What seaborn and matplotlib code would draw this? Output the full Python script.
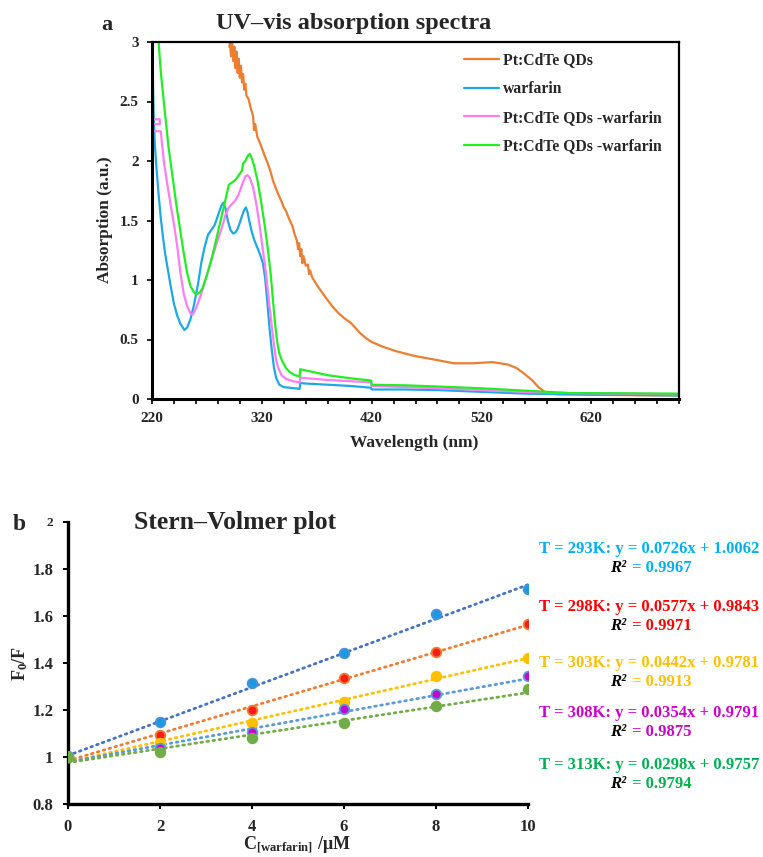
import numpy as np
import pandas as pd
import matplotlib
matplotlib.use("Agg")
import matplotlib.pyplot as plt
import seaborn as sns

# ---------------- data: UV-vis spectra ----------------
qd_x = [290.5, 291, 292, 293, 294, 295, 296, 297, 298, 299, 300, 301, 302, 303, 304, 305, 306, 308, 310,
        312, 313, 314, 316, 318, 320, 322, 325, 328, 330, 332, 335, 338, 340, 342, 345, 348, 350, 352,
        353, 354, 355, 356, 357, 358, 360, 362, 363, 364, 366, 370, 373, 380, 385, 390, 395, 401, 405,
        410, 415, 420, 425, 430, 443, 460, 478, 495, 512, 530, 544, 552, 558, 566, 572, 579, 590, 620, 660, 700]
qd_y = [2.96, 3.00, 2.88, 2.99, 2.84, 2.96, 2.78, 2.92, 2.74, 2.86, 2.70, 2.80, 2.66, 2.73, 2.60, 2.65, 2.55, 2.52, 2.44,
        2.38, 2.26, 2.31, 2.20, 2.16, 2.11, 2.06, 1.99, 1.91, 1.84, 1.79, 1.72, 1.66, 1.61, 1.58, 1.51, 1.45, 1.38, 1.33,
        1.26, 1.31, 1.20, 1.26, 1.14, 1.20, 1.12, 1.13, 1.05, 1.08, 1.02, 0.96, 0.92, 0.83, 0.77, 0.72, 0.68, 0.64, 0.60,
        0.55, 0.51, 0.48, 0.46, 0.44, 0.40, 0.36, 0.33, 0.30, 0.30, 0.31, 0.29, 0.26, 0.22, 0.16, 0.10, 0.05, 0.04, 0.035, 0.032, 0.03]

war_x = [220.3, 220.8, 221.5, 222.5, 224, 226, 228, 230, 232, 234, 237, 240, 243, 246, 249.5, 252, 255, 258, 262,
         265, 268, 271, 274, 277, 280, 283, 285, 287, 289, 291.5, 294, 296, 298, 300, 302, 304, 305.5, 307, 309,
         311, 313, 316, 319, 321, 323, 325, 327, 329, 331, 333, 336, 340, 345, 350, 354.5, 355, 360, 380, 400,
         419.5, 420, 450, 480, 520, 560, 600, 650, 700]
war_y = [3.0, 2.7, 2.4, 2.15, 1.95, 1.72, 1.52, 1.36, 1.22, 1.11, 0.95, 0.80, 0.70, 0.63, 0.58, 0.60, 0.67, 0.78, 0.97,
         1.15, 1.28, 1.38, 1.42, 1.46, 1.54, 1.62, 1.65, 1.60, 1.50, 1.42, 1.39, 1.40, 1.43, 1.48, 1.54, 1.59, 1.61, 1.57, 1.48,
         1.40, 1.34, 1.27, 1.20, 1.14, 1.02, 0.82, 0.60, 0.42, 0.27, 0.18, 0.12, 0.10, 0.095, 0.09, 0.085, 0.135, 0.13, 0.12, 0.11,
         0.095, 0.08, 0.08, 0.075, 0.06, 0.045, 0.04, 0.035, 0.03]

mix1_x = [220.3, 220.6, 227, 227.3, 220.6, 220.6, 228, 229, 231, 234, 237, 240, 243, 246, 249, 252, 255, 257, 260,
          264, 268, 272, 276, 280, 284, 287, 290, 293, 296, 299, 302, 305, 307, 309, 312, 315, 318, 321, 323, 325,
          327, 329, 331, 333, 335, 338, 342, 348, 354.5, 355, 360, 380, 400, 419.5, 420, 450, 480, 520, 560, 600, 650, 700]
mix1_y = [2.95, 2.35, 2.35, 2.31, 2.31, 2.25, 2.25, 2.15, 1.98, 1.80, 1.63, 1.47, 1.28, 1.05, 0.88, 0.78, 0.72, 0.71, 0.76,
          0.86, 0.98, 1.10, 1.22, 1.34, 1.45, 1.55, 1.61, 1.64, 1.67, 1.72, 1.80, 1.87, 1.88, 1.86, 1.78, 1.64, 1.46, 1.25, 1.12, 0.95,
          0.78, 0.62, 0.46, 0.33, 0.26, 0.20, 0.17, 0.15, 0.14, 0.18, 0.175, 0.16, 0.15, 0.14, 0.11, 0.10, 0.09, 0.075, 0.06, 0.05, 0.045, 0.04]

mix2_x = [226, 228, 230.5, 233, 235, 237.5, 240, 243, 246, 249, 252, 255, 258, 260, 263, 266, 270, 274, 278, 282, 285,
          288, 290, 293, 296, 299, 302, 303, 305, 307, 309, 311, 313, 316, 319, 322, 325, 328, 330, 332, 334, 336, 338.5,
          342, 345, 350, 354.5, 355, 360, 380, 400, 419.5, 420, 450, 480, 520, 560, 600, 650, 700]
mix2_y = [3.0, 2.75, 2.52, 2.30, 2.12, 1.95, 1.78, 1.58, 1.40, 1.22, 1.06, 0.95, 0.90, 0.88, 0.89, 0.93, 1.04, 1.17, 1.32, 1.48, 1.60,
          1.72, 1.80, 1.82, 1.84, 1.88, 1.92, 1.98, 2.00, 2.04, 2.06, 2.02, 1.96, 1.84, 1.68, 1.50, 1.30, 1.06, 0.85, 0.64, 0.48, 0.38, 0.32,
          0.26, 0.23, 0.20, 0.19, 0.25, 0.24, 0.20, 0.175, 0.155, 0.12, 0.115, 0.105, 0.09, 0.07, 0.05, 0.048, 0.045]

spec_labels = ["Pt:CdTe QDs", "warfarin", "Pt:CdTe QDs -warfarin", "Pt:CdTe QDs -warfarin"]
spec_colors = ["#ED7D31", "#1FA8E6", "#FF7DF5", "#22EE22"]

# ---------------- data: Stern-Volmer ----------------
conc = [0, 2, 4, 6, 8, 10]
temps = ["293K", "298K", "303K", "308K", "313K"]
f0f_293 = [1.003, 1.148, 1.315, 1.440, 1.607, 1.713]
f0f_298 = [1.000, 1.094, 1.200, 1.337, 1.445, 1.567]
f0f_303 = [1.000, 1.058, 1.143, 1.233, 1.344, 1.422]
f0f_308 = [1.000, 1.037, 1.105, 1.202, 1.266, 1.344]
f0f_313 = [1.000, 1.020, 1.081, 1.146, 1.217, 1.290]
slopes = [0.0726, 0.0577, 0.0442, 0.0354, 0.0298]
intercepts = [1.0062, 0.9843, 0.9781, 0.9791, 0.9757]
r2_vals = ["0.9967", "0.9971", "0.9913", "0.9875", "0.9794"]
eq_texts = ["T = 293K: y = 0.0726x + 1.0062", "T = 298K: y = 0.0577x + 0.9843",
            "T = 303K: y = 0.0442x + 0.9781", "T = 308K: y = 0.0354x + 0.9791",
            "T = 313K: y = 0.0298x + 0.9757"]
marker_face = ["#1A9BE0", "#FF1A1A", "#FFC000", "#CC00CC", "#70AD47"]
marker_edge = ["#4A90D9", "#ED7D31", "#FFC000", "#5B9BD5", "#70AD47"]
line_colors = ["#4472C4", "#ED7D31", "#FFC000", "#5B9BD5", "#70AD47"]
text_colors = ["#00B0F0", "#FF0000", "#FFC000", "#CC00CC", "#00B050"]

# ---------------- style ----------------
sns.set_theme(style="white")
plt.rcParams["font.family"] = ["Liberation Serif", "DejaVu Serif"]
plt.rcParams["font.weight"] = "bold"
plt.rcParams["axes.labelweight"] = "bold"
plt.rcParams["mathtext.fontset"] = "custom"
plt.rcParams["mathtext.rm"] = "Liberation Serif:bold"
plt.rcParams["mathtext.it"] = "Liberation Serif:italic:bold"
plt.rcParams["mathtext.bf"] = "Liberation Serif:bold"

W, H = 763, 857
fig = plt.figure(figsize=(W / 100, H / 100), dpi=100)

def fx(px):
    return px / W

def fy(py):
    return 1 - py / H

# ---------------- top panel ----------------
L1, R1, T1, B1 = 152, 679, 42, 399
ax1 = fig.add_axes([fx(L1), fy(B1), fx(R1) - fx(L1), fy(T1) - fy(B1)])
spectra = [(qd_x, qd_y), (war_x, war_y), (mix1_x, mix1_y), (mix2_x, mix2_y)]
for (xs, ys), lab, col in zip(spectra, spec_labels, spec_colors):
    df = pd.DataFrame({"wl": xs, "abs": ys})
    sns.lineplot(data=df, x="wl", y="abs", ax=ax1, sort=False, estimator=None,
                 color=col, lw=1.6, label=lab)
ax1.set_xlim(220, 700)
ax1.set_ylim(0, 3)
ax1.set_xticks([220, 320, 420, 520, 620])
ax1.set_xticks(np.arange(220, 701, 20), minor=True)
ax1.set_yticks([0, 0.5, 1, 1.5, 2, 2.5, 3])
ax1.set_yticklabels(["0", "0.5", "1", "1.5", "2", "2.5", "3"])
ax1.tick_params(axis="both", which="both", direction="out", length=3.5, width=1.2,
                labelsize=11, color="black", bottom=True, left=True, pad=6)
for lab in ax1.get_xticklabels() + ax1.get_yticklabels():
    lab.set_fontweight("bold")
for s in ax1.spines.values():
    s.set_color("black")
    s.set_linewidth(1.6)
ax1.spines["left"].set_linewidth(2.2)
ax1.spines["bottom"].set_linewidth(2.2)
ax1.set_xlabel("Wavelength (nm)", fontsize=12.5, fontweight="bold")
ax1.set_ylabel("Absorption (a.u.)", fontsize=12.5, fontweight="bold")
ax1.xaxis.set_label_coords((414 - L1) / (R1 - L1), (B1 - 443) / (B1 - T1))
ax1.xaxis.label.set_va("center")
ax1.yaxis.set_label_coords((105 - L1) / (R1 - L1), (B1 - 220) / (B1 - T1))
ax1.yaxis.label.set_va("center")
leg = ax1.legend(loc="upper left", bbox_to_anchor=((450 - L1) / (R1 - L1), 1.01), frameon=False,
                 fontsize=11.3, handlelength=2.2, labelspacing=0.8, handletextpad=0.3)
for t in leg.get_texts():
    t.set_fontweight("bold")
fig.text(fx(107), fy(25), "a", fontsize=16, fontweight="bold", ha="center", va="center")
fig.text(fx(354), fy(24), "UV–vis absorption spectra", fontsize=17.5, fontweight="bold",
         ha="center", va="center")

# ---------------- bottom panel ----------------
L2, R2, T2, B2 = 68, 528, 521.7, 804
ax2 = fig.add_axes([fx(L2), fy(B2), fx(R2) - fx(L2), fy(T2) - fy(B2)])
series = [f0f_293, f0f_298, f0f_303, f0f_308, f0f_313]
xfit = np.array([conc[0], conc[-1]])
for i in range(len(temps)):
    fit_df = pd.DataFrame({"c": xfit, "v": slopes[i] * xfit + intercepts[i]})
    sns.lineplot(data=fit_df, x="c", y="v", ax=ax2, color=line_colors[i], lw=2.0,
                 linestyle=(0, (0.6, 1.6)), dash_capstyle="round", zorder=2)
for i in range(len(temps)):
    pts = pd.DataFrame({"c": conc, "v": series[i]})
    sns.scatterplot(data=pts, x="c", y="v", ax=ax2, s=48, color=marker_face[i],
                    edgecolor=marker_edge[i], linewidth=1.3, zorder=3)
ax2.set_xlim(0, 10)
ax2.set_ylim(0.8, 2.0)
ax2.set_xticks([0, 2, 4, 6, 8, 10])
ax2.set_yticks([0.8, 1.0, 1.2, 1.4, 1.6, 1.8, 2.0])
ax2.set_yticklabels(["0.8", "1", "1.2", "1.4", "1.6", "1.8", "2"])
ax2.tick_params(axis="both", which="both", direction="out", length=3.5, width=1.4,
                labelsize=12, color="black", bottom=True, left=True, pad=7)
for lab in ax2.get_xticklabels() + ax2.get_yticklabels():
    lab.set_fontweight("bold")
ax2.get_yticklabels()[-1].set_fontsize(9.5)
ax2.spines["top"].set_visible(False)
ax2.spines["right"].set_visible(False)
ax2.spines["left"].set_color("black")
ax2.spines["bottom"].set_color("black")
ax2.spines["left"].set_linewidth(2.4)
ax2.spines["bottom"].set_linewidth(2.4)
ax2.set_xlabel(r"C$_{\mathrm{[warfarin]}}$ /μM", fontsize=13, fontweight="bold")
ax2.set_ylabel(r"F$_{\mathrm{0}}$/F", fontsize=13, fontweight="bold")
ax2.xaxis.set_label_coords((297 - L2) / (R2 - L2), (B2 - 845) / (B2 - T2))
ax2.xaxis.label.set_va("center")
ax2.yaxis.set_label_coords((20 - L2) / (R2 - L2), (B2 - 663) / (B2 - T2))
ax2.yaxis.label.set_va("center")
fig.text(fx(19), fy(524), "b", fontsize=17, fontweight="bold", ha="center", va="center")
fig.text(fx(235.5), fy(523), "Stern–Volmer plot", fontsize=18.5, fontweight="bold",
         ha="center", va="center")

eq_y = [549, 607, 663, 713, 765]
for i in range(len(temps)):
    fig.text(fx(649), fy(eq_y[i]), eq_texts[i], color=text_colors[i], fontsize=12,
             fontweight="bold", ha="center", va="center")
    fig.text(fx(626), fy(eq_y[i] + 19), "R²", color="black", fontsize=12,
             ha="right", va="center", style="italic", fontweight="bold")
    fig.text(fx(632), fy(eq_y[i] + 19), "= " + r2_vals[i], color=text_colors[i], fontsize=12,
             fontweight="bold", ha="left", va="center")

fig.savefig("out.png", dpi=100)
